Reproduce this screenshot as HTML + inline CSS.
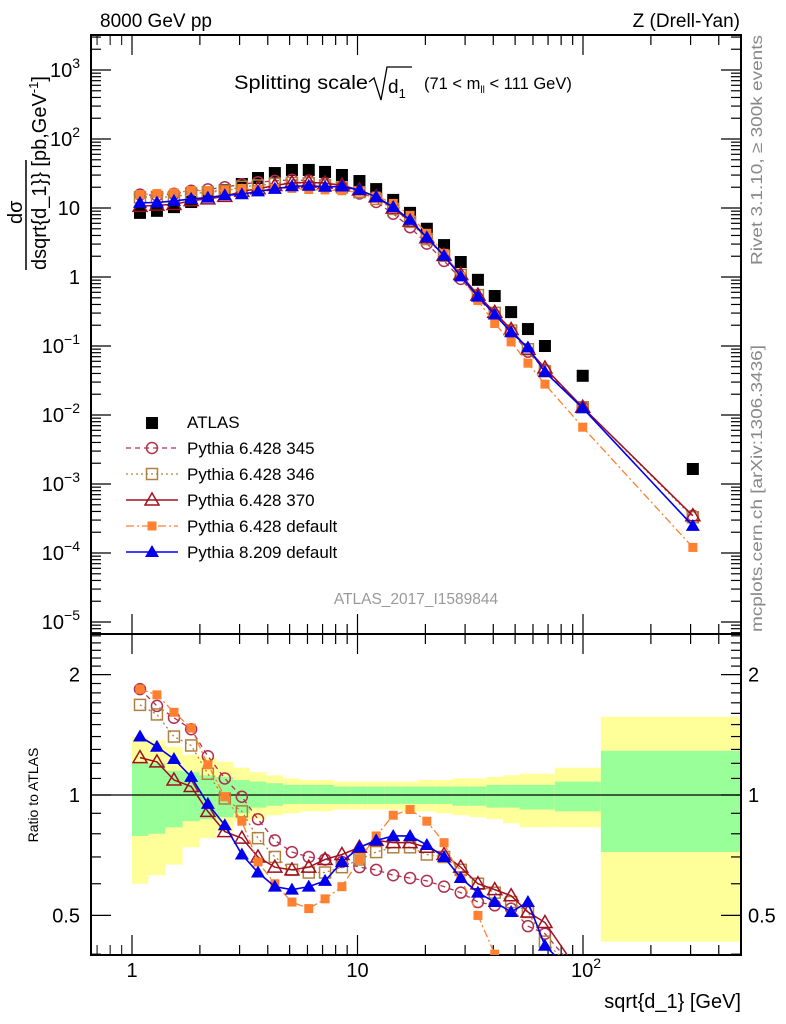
<!DOCTYPE html>
<html><head><meta charset="utf-8"><style>
html,body{margin:0;padding:0;background:#fff;overflow:hidden;width:786px;height:1024px;}
svg{display:block;font-family:"Liberation Sans",Arial,sans-serif;}
</style></head><body>
<svg id="chart" width="786" height="1024" viewBox="0 0 786 1024" xmlns="http://www.w3.org/2000/svg">
<g id="bands"></g>
<g id="axes"></g>
<g id="series"></g>
<text x="100" y="27" font-size="19">8000 GeV pp</text>
<text x="740" y="27" font-size="19" text-anchor="end">Z (Drell-Yan)</text>
<g>
<text x="234" y="89" font-size="19" textLength="134" lengthAdjust="spacingAndGlyphs">Splitting scale</text>
<path d="M369,82 L374,78 L381,100 L387,67 L412,67" fill="none" stroke="#000" stroke-width="1.3"/>
<text x="388" y="93" font-size="19">d<tspan font-size="13" dy="5">1</tspan></text>
<text x="424" y="89" font-size="16.5">(71 &lt; m<tspan font-size="10" dy="4">ll</tspan><tspan dy="-4"> &lt; 111 GeV)</tspan></text>
</g>
<g>
<text transform="translate(22,224) rotate(-90)" font-size="20">dσ</text>
<line x1="26" y1="270" x2="26" y2="160" stroke="#000" stroke-width="1.5"/>
<text transform="translate(46,270) rotate(-90)" font-size="20">dsqrt{d_1}} [pb,GeV<tspan font-size="13" dy="-8">-1</tspan><tspan dy="8">]</tspan></text>
</g>
<text transform="translate(762,265) rotate(-90)" font-size="16" textLength="230" lengthAdjust="spacingAndGlyphs" fill="#888">Rivet 3.1.10, ≥ 300k events</text>
<text transform="translate(762,632) rotate(-90)" font-size="16" textLength="287" lengthAdjust="spacingAndGlyphs" fill="#888">mcplots.cern.ch [arXiv:1306.3436]</text>
<text x="416" y="604" font-size="15.5" fill="#999" text-anchor="middle">ATLAS_2017_I1589844</text>
<text transform="translate(38,795) rotate(-90)" font-size="14" text-anchor="middle">Ratio to ATLAS</text>
<text x="741" y="1008" font-size="20" text-anchor="end">sqrt{d_1} [GeV]</text>
<g id="legend"></g>
</svg>
<script>
// ---- data ----
const xVals = [1.085,1.29,1.535,1.83,2.17,2.58,3.07,3.62,4.3,5.12,6.08,7.18,8.53,10.2,12.1,14.4,17.1,20.3,24.2,28.7,34.2,40.6,48.0,57.0,67.8,99.7,307];
const atlasVals = [8.5,9.1,10.3,12.2,14.9,18.2,22.3,27.2,32.1,35.6,35.6,33.3,30.1,24.6,18.8,13.1,8.5,5.0,2.9,1.65,0.91,0.53,0.31,0.176,0.10,0.037,0.00165];
const ratio345 = [1.84,1.67,1.56,1.46,1.25,1.10,0.99,0.87,0.77,0.72,0.70,0.69,0.68,0.66,0.65,0.63,0.62,0.61,0.59,0.57,0.54,0.53,0.52,0.47,0.45,0.35,0.21];
const ratio346 = [1.68,1.59,1.40,1.33,1.13,0.98,0.91,0.78,0.70,0.65,0.64,0.64,0.66,0.69,0.72,0.74,0.74,0.71,0.70,0.65,0.60,0.57,0.54,0.51,0.43,0.35,0.20];
const ratio370 = [1.24,1.21,1.09,1.05,0.91,0.81,0.78,0.70,0.66,0.65,0.66,0.69,0.71,0.74,0.77,0.76,0.76,0.74,0.71,0.66,0.60,0.58,0.56,0.51,0.48,0.35,0.21];
const ratio6def = [1.84,1.78,1.61,1.47,1.19,0.99,0.86,0.68,0.60,0.54,0.52,0.55,0.59,0.69,0.79,0.89,0.92,0.86,0.76,0.62,0.50,0.40,0.37,0.32,0.28,0.18,0.073];
const ratio8def = [1.40,1.32,1.23,1.11,0.95,0.84,0.71,0.64,0.59,0.58,0.59,0.61,0.68,0.74,0.77,0.79,0.79,0.75,0.70,0.62,0.57,0.54,0.51,0.54,0.42,0.34,0.15];
const binEdges = [1.0,1.183,1.407,1.676,1.993,2.367,2.814,3.334,3.945,4.69,5.58,6.61,7.83,9.32,11.11,13.2,15.69,18.64,22.16,26.35,31.33,37.26,44.16,52.3,62.2,75,120,500];
const greenHi = [1.20,1.20,1.15,1.14,1.12,1.11,1.09,1.08,1.07,1.06,1.06,1.06,1.05,1.05,1.05,1.05,1.05,1.05,1.05,1.05,1.05,1.06,1.06,1.06,1.06,1.08,1.29];
const greenLo = [0.79,0.80,0.83,0.86,0.87,0.88,0.90,0.93,0.94,0.95,0.95,0.95,0.95,0.95,0.95,0.95,0.95,0.95,0.95,0.94,0.94,0.93,0.93,0.92,0.92,0.91,0.72];
const yellowHi = [1.40,1.37,1.32,1.26,1.24,1.21,1.17,1.14,1.12,1.10,1.09,1.09,1.08,1.08,1.08,1.08,1.08,1.09,1.09,1.10,1.10,1.11,1.12,1.13,1.13,1.17,1.57];
const yellowLo = [0.60,0.63,0.67,0.74,0.78,0.81,0.86,0.87,0.89,0.90,0.91,0.91,0.92,0.92,0.92,0.92,0.91,0.91,0.90,0.89,0.88,0.87,0.85,0.83,0.83,0.83,0.43];
const topTickLabels = ["10^-5","10^-4","10^-3","10^-2","10^-1","1","10","10^2","10^3"];
const seriesNames = ["Pythia 6.428 345","Pythia 6.428 346","Pythia 6.428 370","Pythia 6.428 default","Pythia 8.209 default"];

// ---- layout ----
const L=91,R=741,T=35,MID=634,B=955;
const NS="http://www.w3.org/2000/svg";
const xS=v=>132+225.5*Math.log10(v);
const yTop=v=>277-69*Math.log10(v);
const yRat=v=>795-400*Math.log10(v);
function mk(tag,attrs,parent){const e=document.createElementNS(NS,tag);for(const k in attrs)e.setAttribute(k,attrs[k]);parent.appendChild(e);return e;}

// bands
const bg=document.getElementById('bands');
for(let i=0;i<binEdges.length-1;i++){
  const x1=Math.max(L,xS(binEdges[i])),x2=Math.min(R,xS(binEdges[i+1]));
  const yh=Math.max(MID,yRat(yellowHi[i])),yl=Math.min(B,yRat(yellowLo[i]));
  const r1=mk('rect',{x:x1,y:yh,width:x2-x1,height:yl-yh,fill:'#ffff99'},bg);
  
  
  const gh=yRat(greenHi[i]),gl=yRat(greenLo[i]);
  const r2=mk('rect',{x:x1,y:gh,width:x2-x1,height:gl-gh,fill:'#99ff99'},bg);
  
  
}

// axes
const ax=document.getElementById('axes');
mk('rect',{x:L,y:T,width:R-L,height:MID-T,fill:'none',stroke:'#000','stroke-width':2},ax);
mk('rect',{x:L,y:MID,width:R-L,height:B-MID,fill:'none',stroke:'#000','stroke-width':2},ax);
mk('line',{x1:L,y1:795,x2:R,y2:795,stroke:'#000','stroke-width':1.3},ax);
for(let d=0;d<3;d++){for(let m=1;m<10;m++){const v=m*Math.pow(10,d);const x=xS(v);if(x>R)continue;
  const len=m===1?20:10;
  mk('line',{x1:x,y1:B,x2:x,y2:B-len,stroke:'#000','stroke-width':1.2},ax);
  mk('line',{x1:x,y1:MID,x2:x,y2:MID+len,stroke:'#000','stroke-width':1.2},ax);
  mk('line',{x1:x,y1:MID,x2:x,y2:MID-len,stroke:'#000','stroke-width':1.2},ax);
  mk('line',{x1:x,y1:T,x2:x,y2:T+len,stroke:'#000','stroke-width':1.2},ax);
}}
for(let m=6;m<10;m++){const x=xS(m/10);if(x>L){mk('line',{x1:x,y1:B,x2:x,y2:B-10,stroke:'#000'},ax);mk('line',{x1:x,y1:T,x2:x,y2:T+10,stroke:'#000'},ax);}}
[["1",1],["10",10]].forEach(([t,v])=>{const e=mk('text',{x:xS(v),y:977,'font-size':20,'text-anchor':'middle'},ax);e.textContent=t;
  
  });
{const e=mk('text',{x:xS(100)-12,y:977,'font-size':20},ax);e.innerHTML='10<tspan font-size="14" dy="-9">2</tspan>';
  
  }
for(let d=-6;d<4;d++){for(let m=1;m<10;m++){const v=m*Math.pow(10,d);const y=yTop(v);if(y<T||y>MID)continue;
  const len=m===1?20:10;
  mk('line',{x1:L,y1:y,x2:L+len,y2:y,stroke:'#000','stroke-width':1.2},ax);
  mk('line',{x1:R,y1:y,x2:R-len,y2:y,stroke:'#000','stroke-width':1.2},ax);}}
topTickLabels.forEach((t,i)=>{const p=i-5;const y=yTop(Math.pow(10,p))+7;
  const e=mk('text',{x:80,y:y,'font-size':20,'text-anchor':'end'},ax);
  if(t.indexOf('^')<0){e.textContent=t;}else{const [b,ex]=t.split('^');e.innerHTML=b+'<tspan font-size="14" dy="-9">'+ex.replace('-','−')+'</tspan>';}
  
  });
for(let k=4;k<=25;k++){const v=k/10;const y=yRat(v);if(y<MID||y>B)continue;
  const major=(k===5||k===10||k===20);const len=major?20:10;
  mk('line',{x1:L,y1:y,x2:L+len,y2:y,stroke:'#000','stroke-width':1.2},ax);
  mk('line',{x1:R,y1:y,x2:R-len,y2:y,stroke:'#000','stroke-width':1.2},ax);}
[["2",2],["1",1],["0.5",0.5]].forEach(([t,v])=>{
  const e=mk('text',{x:80,y:yRat(v)+7,'font-size':20,'text-anchor':'end'},ax);e.textContent=t;
  
  
  const f=mk('text',{x:748,y:yRat(v)+7,'font-size':20},ax);f.textContent=t;
  
  });

// series
const sg=document.getElementById('series');
const styles=[
 {c:'#b03050',dash:'5,4',m:'circle-open',w:1.3},
 {c:'#b08040',dash:'2,3',m:'square-open',w:1.3},
 {c:'#a01020',dash:'',m:'tri-open',w:1.5},
 {c:'#ff8030',dash:'8,3,2,3',m:'square-filled',w:1.3},
 {c:'#0000ee',dash:'',m:'tri-filled',w:1.6}];
const ratios=[ratio345,ratio346,ratio370,ratio6def,ratio8def];
function marker(g,type,x,y,c){
  if(type==='circle-open')return mk('circle',{cx:x,cy:y,r:5.5,fill:'none',stroke:c,'stroke-width':1.5},g);
  if(type==='square-open')return mk('rect',{x:x-5.5,y:y-5.5,width:11,height:11,fill:'none',stroke:c,'stroke-width':1.5},g);
  if(type==='square-filled')return mk('rect',{x:x-4.5,y:y-4.5,width:9,height:9,fill:c},g);
  if(type==='black-square')return mk('rect',{x:x-6,y:y-6,width:12,height:12,fill:c},g);
  if(type==='tri-open')return mk('polygon',{points:`${x},${y-7} ${x-7},${y+5} ${x+7},${y+5}`,fill:'none',stroke:c,'stroke-width':1.5},g);
  return mk('polygon',{points:`${x},${y-7} ${x-7},${y+5} ${x+7},${y+5}`,fill:c},g);
}
const ag=mk('g',{},sg);


xVals.forEach((x,i)=>{const m=marker(ag,'black-square',xS(x),yTop(atlasVals[i]),'#000');
  
  });
const clip=mk('clipPath',{id:'rc'},sg);mk('rect',{x:L,y:MID,width:R-L,height:B-MID},clip);
ratios.forEach((rat,s)=>{
  const st=styles[s];
  const g=mk('g',{},sg);
  
  
  const topPts=xVals.map((x,i)=>[xS(x),yTop(atlasVals[i]*rat[i])]);
  mk('polyline',{points:topPts.map(p=>p.join(',')).join(' '),fill:'none',stroke:st.c,'stroke-width':st.w,'stroke-dasharray':st.dash},g);
  topPts.forEach(p=>{const m=marker(g,st.m,p[0],p[1],st.c);
    
    });
  const rg=mk('g',{'clip-path':'url(#rc)'},g);
  const rPts=xVals.map((x,i)=>[xS(x),yRat(rat[i])]);
  mk('polyline',{points:rPts.map(p=>p.join(',')).join(' '),fill:'none',stroke:st.c,'stroke-width':st.w,'stroke-dasharray':st.dash},rg);
  rPts.forEach(p=>{if(p[1]>B+6)return;const m=marker(rg,st.m,p[0],p[1],st.c);
    
    });
});

// legend
const lg=document.getElementById('legend');
{const m=marker(lg,'black-square',152,423,'#000');
 
 
 const t=mk('text',{x:187,y:428,'font-size':17},lg);t.textContent='ATLAS';
 
 }
seriesNames.forEach((n,s)=>{const st=styles[s];const y=448+26*s;
  mk('line',{x1:126,y1:y,x2:178,y2:y,stroke:st.c,'stroke-width':st.w,'stroke-dasharray':st.dash},lg);
  const m=marker(lg,st.m,152,y,st.c);
  
  
  const t=mk('text',{x:187,y:y+6,'font-size':17},lg);t.textContent=n;
  
  });
</script>
</body></html>
